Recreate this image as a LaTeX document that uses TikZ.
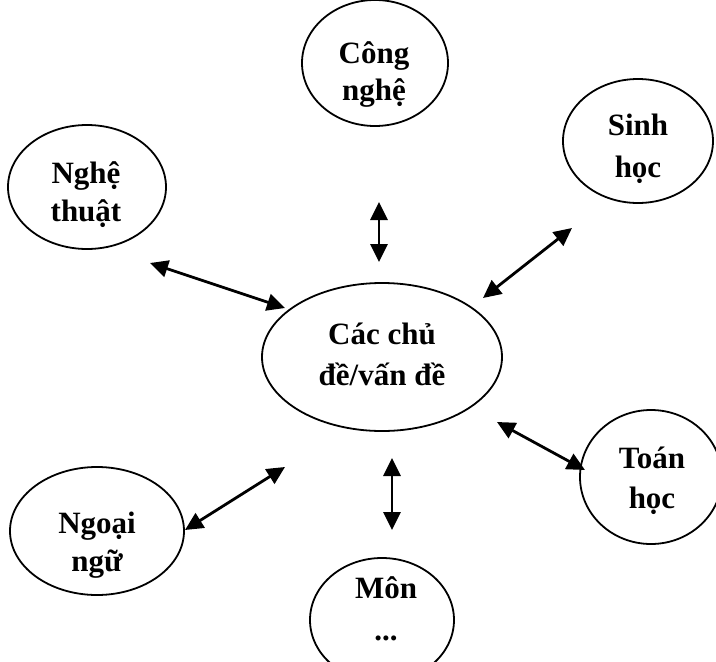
\documentclass[tikz,border=0pt]{standalone}
\usepackage{fontspec}
\setmainfont{Liberation Serif}
\usetikzlibrary{shapes.geometric,arrows.meta}
\begin{document}
\begin{tikzpicture}[x=1pt,y=-1pt,
  bubble/.style={draw,line width=1.8pt,ellipse,inner sep=0pt},
  lbl/.style={font=\fontsize{31}{36}\selectfont\bfseries,anchor=base,inner sep=0pt},
  link/.style={line width=2.8pt,{Triangle[length=18pt,width=17pt]}-{Triangle[length=18pt,width=17pt]}}]
\useasboundingbox (0,0) rectangle (716,662);
\clip (0,0) rectangle (716,662);
% bubbles
\node[bubble,minimum width=146pt,minimum height=126pt] (cong) at (375,63) {};
\node[lbl] (cong1) at (374,63) {Công};
\node[lbl] (cong2) at (374,100) {nghệ};
\node[bubble,minimum width=150pt,minimum height=124pt] (sinh) at (638,141) {};
\node[lbl] (sinh1) at (638,135) {Sinh};
\node[lbl] (sinh2) at (638,177) {học};
\node[bubble,minimum width=158pt,minimum height=124pt] (nghe) at (87,187) {};
\node[lbl] (nghe1) at (86,183) {Nghệ};
\node[lbl] (nghe2) at (86,221) {thuật};
\node[bubble,minimum width=240pt,minimum height=148pt] (chude) at (382,357) {};
\node[lbl] (chude1) at (382,344) {Các chủ};
\node[lbl] (chude2) at (382,385) {đề/vấn đề};
\node[bubble,minimum width=142pt,minimum height=134pt] (toan) at (651,477) {};
\node[lbl] (toan1) at (652,468) {Toán};
\node[lbl] (toan2) at (652,508) {học};
\node[bubble,minimum width=174pt,minimum height=128pt] (ngoai) at (97,531) {};
\node[lbl] (ngoai1) at (97,533) {Ngoại};
\node[lbl] (ngoai2) at (97,571) {ngữ};
\node[bubble,minimum width=144pt,minimum height=124pt] (mon) at (382,620) {};
\node[lbl] (mon1) at (386,598) {Môn};
\node[lbl] (mon2) at (386,640) {...};
% arrow ends
\coordinate (a1s) at (379,202); \coordinate (a1e) at (379,262);
\coordinate (a2s) at (150,263); \coordinate (a2e) at (285,308);
\coordinate (a3s) at (572,228); \coordinate (a3e) at (483,298);
\coordinate (a4s) at (497,422); \coordinate (a4e) at (585,470);
\coordinate (a5s) at (285,467); \coordinate (a5e) at (185,530);
\coordinate (a6s) at (392,458); \coordinate (a6e) at (392,530);
\draw[link] (a1s) -- (a1e);
\draw[link] (a2s) -- (a2e);
\draw[link] (a3s) -- (a3e);
\draw[link] (a4s) -- (a4e);
\draw[link] (a5s) -- (a5e);
\draw[link] (a6s) -- (a6e);
\end{tikzpicture}
\end{document}
